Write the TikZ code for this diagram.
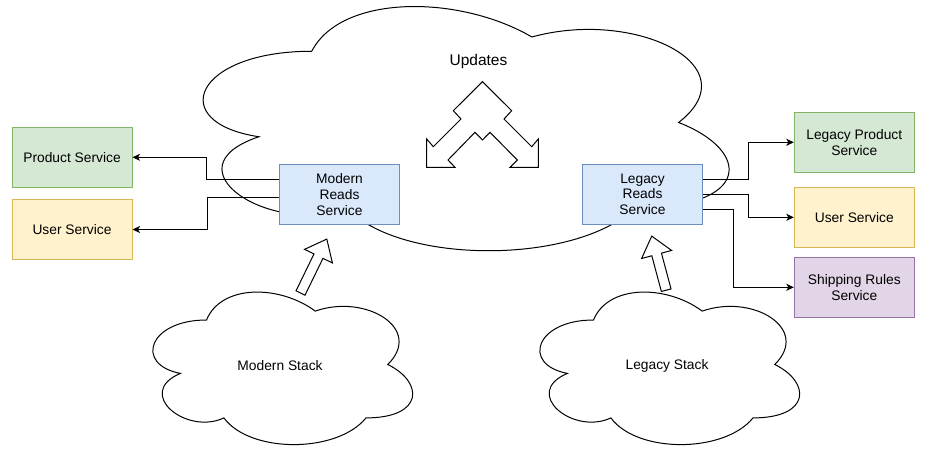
\documentclass[tikz,border=0pt]{standalone}
\usepackage{fontspec}
\setmainfont{Liberation Sans}
\usepackage{tikz}
\usetikzlibrary{arrows.meta, positioning}
\definecolor{ink}{HTML}{000000}
\definecolor{gfill}{HTML}{D5E8D4}
\definecolor{gline}{HTML}{82B366}
\definecolor{yfill}{HTML}{FFF2CC}
\definecolor{yline}{HTML}{D6B656}
\definecolor{bfill}{HTML}{DAE8FC}
\definecolor{bline}{HTML}{6C8EBF}
\definecolor{pfill}{HTML}{E1D5E7}
\definecolor{pline}{HTML}{9673A6}

\begin{document}
\begin{tikzpicture}[x=1pt, y=-1pt, line width=1pt, color=ink,
    font=\fontsize{13.8}{15.8}\selectfont,
    svc/.style={draw, minimum width=120pt, minimum height=60pt, align=center, inner sep=2pt},
    link/.style={-{Stealth[length=7.5pt, width=7pt, inset=2pt]}},
    cloudline/.style={draw=ink, fill=white},
    blockarrow/.pic={\draw[fill=white] (-5,0) -- (-5,{19-#1}) -- (-15.5,{19-#1}) -- (0,-#1)
      -- (15.5,{19-#1}) -- (5,{19-#1}) -- (5,0) -- cycle;}]
    \useasboundingbox (0,0) rectangle (929,457);
    % clouds: left/top/width/height
    \foreach \cx/\cy/\cw/\ch in {165/-20/587/285, 134/275.5/290/178, 521/275.5/290/178}{
      \begin{scope}[shift={(\cx,\cy)}, x=\cw pt, y=-\ch pt]
        \path[cloudline] (0.25,0.25) .. controls (0.05,0.25) and (0,0.5) .. (0.16,0.55)
          .. controls (0,0.66) and (0.18,0.9) .. (0.31,0.8)
          .. controls (0.4,1) and (0.7,1) .. (0.8,0.8)
          .. controls (1,0.8) and (1,0.6) .. (0.875,0.5)
          .. controls (1,0.3) and (0.8,0.1) .. (0.625,0.2)
          .. controls (0.5,0.05) and (0.3,0.05) .. (0.25,0.25) -- cycle;
      \end{scope}
    }
    \node (updates) at (478.5,61) {\fontsize{15.5}{18}\selectfont Updates};
    \node (modernstack) at (280,366) {Modern Stack};
    \node (legacystack) at (667,366) {Legacy Stack};
    % two-way arrow under the title
    \draw[fill=white] (482.5,81.7) -- (511.7,110.7) -- (504,119) -- (531.7,146.7) -- (538.3,139)
      -- (538.3,167.3) -- (510,167.3) -- (517.3,160) -- (490,132.3) -- (482.5,140) -- (475,132.3)
      -- (448,160) -- (455,167.3) -- (426.7,167.3) -- (426.7,139) -- (433.3,146.7) -- (461,119)
      -- (453.3,110.7) -- cycle;
    % stacks feeding the read services
    \pic[rotate=-26] at (300.5,293) {blockarrow=60};
    \pic[rotate=15] at (666.2,290.2) {blockarrow=56};
    % services
    \node[svc, fill=bfill, draw=bline] (modern) at (339.5,194.3) {Modern\\Reads\\Service};
    \node[svc, fill=bfill, draw=bline] (legacy) at (642.5,194.3) {Legacy\\Reads\\Service};
    \node[svc, fill=gfill, draw=gline] (product) at (72,157.3) {Product Service};
    \node[svc, fill=yfill, draw=yline] (userl) at (72,229.5) {User Service};
    \node[svc, fill=gfill, draw=gline] (legproduct) at (854.3,142.3) {Legacy Product\\Service};
    \node[svc, fill=yfill, draw=yline] (userr) at (854.3,217.3) {User Service};
    \node[svc, fill=pfill, draw=pline] (shipping) at (854.3,287.3) {Shipping Rules\\Service};
    % calls
    \draw[link] ([yshift=15pt]modern.west) -- ++(-72.6,0) |- (product.east);
    \draw[link] ([yshift=-3pt]modern.west) -- ++(-72,0) |- (userl.east);
    \draw[link] ([yshift=15pt]legacy.east) -- ++(45.8,0) |- (legproduct.west);
    \draw[link] (legacy.east) -- ++(45.8,0) |- (userr.west);
    \draw[link] ([yshift=-15pt]legacy.east) -- ++(30.2,0) |- (shipping.west);
\end{tikzpicture}
\end{document}
